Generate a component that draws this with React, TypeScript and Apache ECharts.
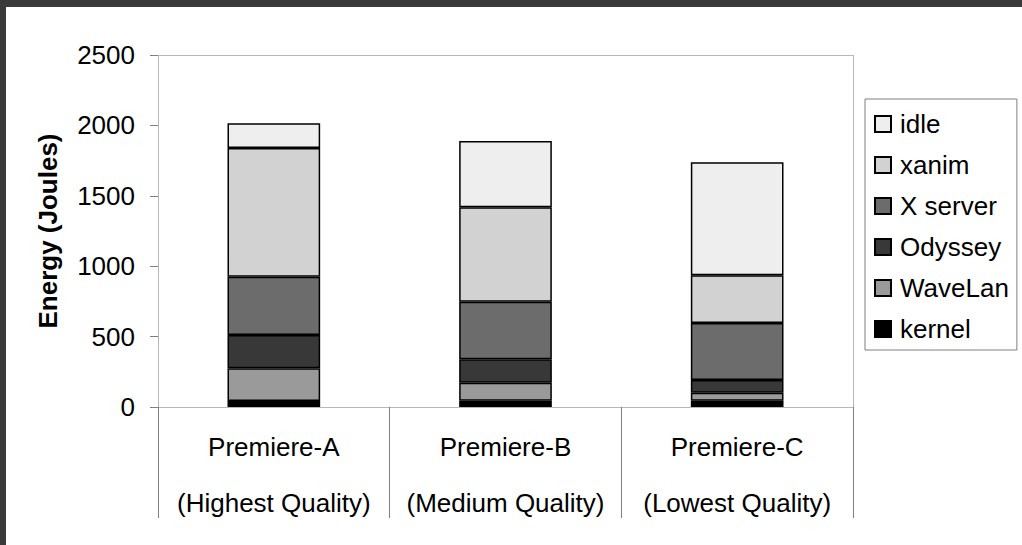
import React, { useEffect, useRef } from "react";
import * as echarts from "echarts";

// Workload categories (two-line labels)
const categories = [
  "Premiere-A\n(Highest Quality)",
  "Premiere-B\n(Medium Quality)",
  "Premiere-C\n(Lowest Quality)",
];

// Energy per component, Joules (stacked bottom to top)
const kernel = [43, 45, 45];
const waveLan = [232, 128, 57];
const odyssey = [236, 166, 90];
const xServer = [414, 409, 405];
const xanim = [914, 670, 338];
const idle = [176, 472, 803];

const yTicks = { min: 0, max: 2500, interval: 500 };

const seriesDefs = [
  { name: "kernel", data: kernel, color: "#000000" },
  { name: "WaveLan", data: waveLan, color: "#9a9a9a" },
  { name: "Odyssey", data: odyssey, color: "#383838" },
  { name: "X server", data: xServer, color: "#6c6c6c" },
  { name: "xanim", data: xanim, color: "#d2d2d2" },
  { name: "idle", data: idle, color: "#eeeeee" },
];

const FONT = "'Liberation Sans', Arial, sans-serif";

export default function App() {
  const ref = useRef<HTMLDivElement>(null);

  useEffect(() => {
    if (!ref.current) return;
    const chart = echarts.init(ref.current, null, { renderer: "svg" });

    const plot = { left: 158, top: 55, width: 695, height: 352 };

    chart.setOption({
      animation: false,
      backgroundColor: "#ffffff",
      textStyle: { fontFamily: FONT, color: "#000" },
      grid: { ...plot, containLabel: false },
      legend: {
        orient: "vertical",
        left: 865,
        top: 99,
        data: seriesDefs.map((s) => s.name).reverse(),
        icon: "rect",
        itemWidth: 16,
        itemHeight: 16,
        itemGap: 11,
        padding: [10, 8, 6, 9],
        borderColor: "#808080",
        borderWidth: 1,
        backgroundColor: "#ffffff",
        textStyle: { fontSize: 26, color: "#000", fontFamily: FONT, lineHeight: 30, padding: [0, 0, 0, 4] },
        selectedMode: false,
      },
      xAxis: {
        type: "category",
        data: categories,
        axisLine: { show: false },
        axisTick: {
          show: true,
          length: 111,
          interval: 0,
          lineStyle: { color: "#808080", width: 1 },
        },
        axisLabel: {
          interval: 0,
          fontSize: 26,
          lineHeight: 56,
          margin: 12,
          color: "#000",
          fontFamily: FONT,
        },
        splitLine: { show: false },
      },
      yAxis: {
        type: "value",
        min: yTicks.min,
        max: yTicks.max,
        interval: yTicks.interval,
        name: "Energy (Joules)",
        nameLocation: "middle",
        nameGap: 97,
        nameTextStyle: { fontSize: 26, fontWeight: "bold", color: "#000", fontFamily: FONT },
        axisLine: { show: false },
        axisTick: { show: true, length: 8, lineStyle: { color: "#808080" } },
        axisLabel: {
          fontSize: 26,
          margin: 23,
          color: "#000",
          fontFamily: FONT,
          formatter: (v: number) => String(v),
        },
        splitLine: { show: false },
      },
      graphic: [
        // dark frame along the top and left edges
        { type: "rect", shape: { x: 0, y: 0, width: 1022, height: 7 }, style: { fill: "#3a3a3a" }, z: 100 },
        { type: "rect", shape: { x: 0, y: 0, width: 6, height: 545 }, style: { fill: "#3a3a3a" }, z: 100 },
        // dotted plot-area border
        {
          type: "rect",
          shape: { x: plot.left + 0.5, y: plot.top + 0.5, width: plot.width, height: plot.height },
          style: { fill: "none", stroke: "#707070", lineWidth: 1, lineDash: [1, 1] },
          z: 0,
        },
      ],
      series: seriesDefs.map((s) => ({
        name: s.name,
        type: "bar",
        stack: "total",
        barWidth: "40%",
        data: s.data,
        itemStyle: { color: s.color, borderColor: "#000", borderWidth: 1.5 },
        emphasis: { disabled: true },
      })),
    });

    return () => chart.dispose();
  }, []);

  return (
    <div
      ref={ref}
      style={{ position: "absolute", left: 0, top: 0, width: 1022, height: 545, background: "#fff" }}
    />
  );
}
